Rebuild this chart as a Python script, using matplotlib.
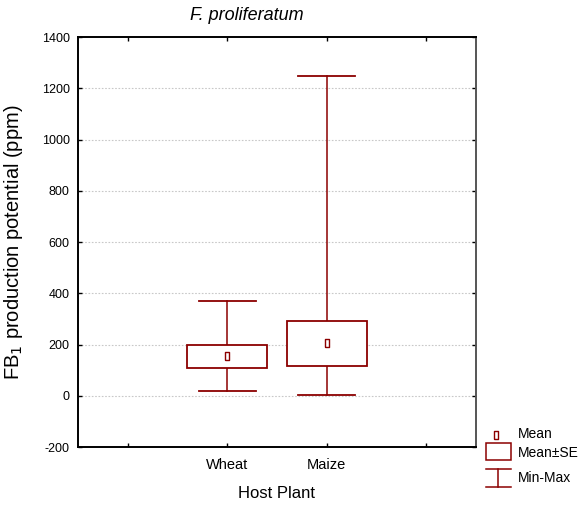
import numpy as np
import matplotlib
matplotlib.use("Agg")
import matplotlib.pyplot as plt
from matplotlib.patches import Rectangle

plt.rcParams['font.family'] = ['Liberation Sans', 'DejaVu Sans']

categories = ['Wheat', 'Maize']
means = [155, 204]
se = [45, 88]
mins = [19, 2]
maxs = [368, 1247]

y_ticks = [-200, 0, 200, 400, 600, 800, 1000, 1200, 1400]

RED = '#8b0000'
W, H = 586, 511
fig = plt.figure(figsize=(W / 100, H / 100), dpi=100)
ax = fig.add_axes([78 / W, 1 - 447 / H, (476 - 78) / W, (447 - 37) / H])

pos = np.arange(1, len(categories) + 1)
box_w = 0.8
cap_w = 0.57
for p, m, s, lo, hi in zip(pos, means, se, mins, maxs):
    ax.plot([p, p], [m + s, hi], color=RED, lw=1.1, zorder=3)
    ax.plot([p, p], [lo, m - s], color=RED, lw=1.1, zorder=3)
    ax.plot([p - cap_w / 2, p + cap_w / 2], [hi, hi], color=RED, lw=1.3, zorder=3)
    ax.plot([p - cap_w / 2, p + cap_w / 2], [lo, lo], color=RED, lw=1.3, zorder=3)
    ax.add_patch(Rectangle((p - box_w / 2, m - s), box_w, 2 * s, facecolor='white',
                           edgecolor=RED, lw=1.3, zorder=4))

rect_marker = [(-0.32, -0.5), (0.32, -0.5), (0.32, 0.5), (-0.32, 0.5), (-0.32, -0.5)]
ax.plot(pos, means, linestyle='none', marker=rect_marker, markersize=5.5,
        markerfacecolor='white', markeredgecolor=RED, markeredgewidth=1.0, zorder=5)

ax.set_xlim(-0.5, len(categories) + 1.5)
ax.set_ylim(y_ticks[0], y_ticks[-1])
ax.set_yticks(y_ticks)
ax.set_yticklabels([str(t) for t in y_ticks], fontsize=9)
ax.set_xticks(np.arange(0, len(categories) + 2))
ax.set_xticklabels([''] + categories + [''], fontsize=10.5)
ax.tick_params(direction='in', top=True, right=True, length=3, width=1, pad=6)
ax.tick_params(axis='x', pad=8)

for yv in y_ticks[1:-1]:
    ax.axhline(yv, color='#c8c8c8', lw=0.8, ls=(0, (1.5, 1.5)), zorder=1)

for sp in ax.spines.values():
    sp.set_linewidth(1.4)
    sp.set_color('black')
ax.spines['right'].set_color('#555555')

ax.set_xlabel('Host Plant', fontsize=12, labelpad=10)
ax.set_ylabel('FB$_1$ production potential (ppm)', fontsize=14.5, labelpad=12)
fig.text(246.5 / W, 1 - 15 / H, 'F. proliferatum', fontsize=13, style='italic',
         ha='center', va='center')

# legend drawn in pixel coordinates
lax = fig.add_axes([0, 0, 1, 1], facecolor='none')
lax.set_xlim(0, W)
lax.set_ylim(H, 0)
lax.axis('off')
lax.plot([496], [435], linestyle='none', marker=rect_marker, markersize=5.5,
         markerfacecolor='white', markeredgecolor=RED, markeredgewidth=1.0)
lax.add_patch(Rectangle((486, 443), 25, 17, facecolor='white', edgecolor=RED, lw=1.1))
lax.plot([498, 498], [469, 487], color=RED, lw=1.1)
lax.plot([486, 511], [469, 469], color=RED, lw=1.1)
lax.plot([486, 511], [487, 487], color=RED, lw=1.1)
for ty, txt in [(434, 'Mean'), (453, 'Mean±SE'), (478, 'Min-Max')]:
    lax.text(518, ty, txt, fontsize=10, va='center', ha='left')

fig.savefig('out.png', dpi=100)
